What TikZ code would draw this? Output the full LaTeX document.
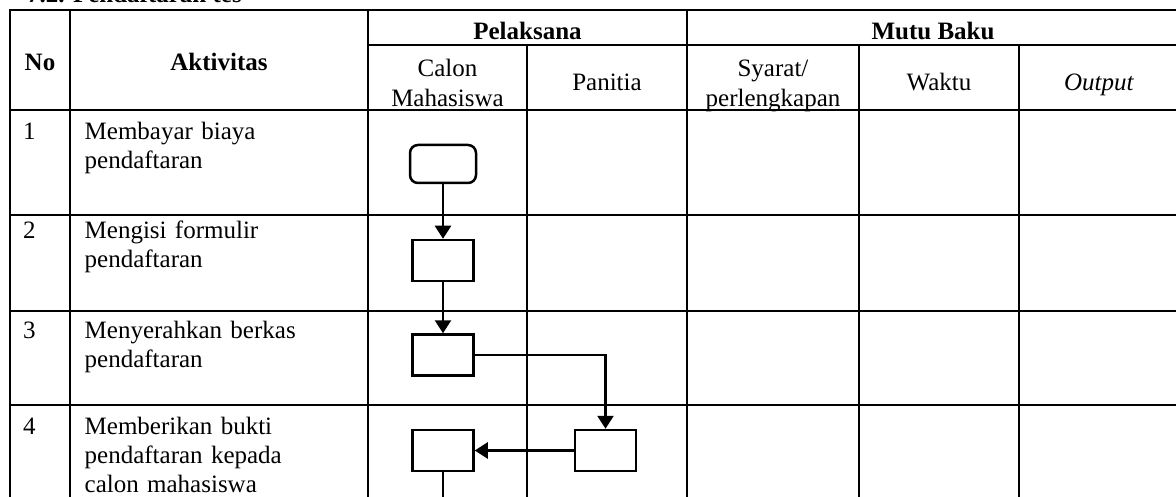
\documentclass[tikz,border=0pt]{standalone}
\usepackage{fontspec}
\setmainfont{Liberation Serif}
\usetikzlibrary{arrows.meta,positioning}
\tikzset{
    %Define standard arrow tip
    >={Triangle[length=13pt,width=16pt]},
    %Define style for table lines
    garis/.style={
           draw=black,
           line width=2.5pt},
    %Define style for boxes
    terminal/.style={
           rectangle,
           rounded corners=8pt,
           draw=black, line width=2.5pt,
           minimum width=66pt,
           minimum height=38pt},
    proses/.style={
           rectangle,
           draw=black, line width=2.5pt,
           minimum width=61pt,
           minimum height=41pt},
    %Define style for texts
    judul/.style={
           font=\fontsize{25}{29}\selectfont\bfseries,
           inner sep=0pt},
    kepala/.style={
           font=\fontsize{25}{29.5}\selectfont,
           inner sep=0pt,
           text width=170pt,
           align=center},
    isi/.style={
           font=\fontsize{25}{29}\selectfont,
           inner sep=0pt,
           text width=270pt,
           align=left},
    % Define arrow style
    pil/.style={
           ->,
           line width=2.5pt}
}
\begin{document}
\begin{tikzpicture}[x=1pt,y=-1pt]
\useasboundingbox (0,0) rectangle (1176,497);
\node[judul, anchor=base west] (judul) at (27,3) {7.2. Pendaftaran tes};
% table lines
\draw[garis] (10,510) -- (10,10) -- (1179,10);
\draw[garis] (368,45) -- (1179,45);
\foreach \y in {110,215,311,405}
    \draw[garis] (10,\y) -- (1179,\y);
\foreach \x in {70,368,687,1179}
    \draw[garis] (\x,10) -- (\x,510);
\foreach \x in {527,859,1019}
    \draw[garis] (\x,45) -- (\x,510);
% header
\node[judul, anchor=base] (no) at (40,71) {No};
\node[judul, anchor=base] (aktivitas) at (219,71) {Aktivitas};
\node[judul, anchor=base] (pelaksana) at (527.5,40) {Pelaksana};
\node[judul, anchor=base] (mutu) at (933,40) {Mutu Baku};
\node[kepala, anchor=base] (calon) at (447.5,77) {Calon\\Mahasiswa};
\node[kepala, anchor=base] (panitia) at (607,91) {Panitia};
\node[kepala, anchor=base] (syarat) at (773,77) {Syarat/\\perlengkapan};
\node[kepala, anchor=base] (waktu) at (939,91) {Waktu};
\node[kepala, anchor=base] (output) at (1099,91) {\textit{Output}};
% rows
\node[isi, text width=40pt, anchor=base west] (n1) at (23,140) {1};
\node[isi, anchor=base west] (a1) at (84.5,140) {Membayar biaya\\pendaftaran};
\node[isi, text width=40pt, anchor=base west] (n2) at (23,239) {2};
\node[isi, anchor=base west] (a2) at (84.5,239) {Mengisi formulir\\pendaftaran};
\node[isi, text width=40pt, anchor=base west] (n3) at (23,338) {3};
\node[isi, anchor=base west] (a3) at (84.5,338) {Menyerahkan berkas\\pendaftaran};
\node[isi, text width=40pt, anchor=base west] (n4) at (23,434) {4};
\node[isi, anchor=base west] (a4) at (84.5,434) {Memberikan bukti\\pendaftaran kepada\\calon mahasiswa};
% flow
\node[terminal] (bayar) at (443,164) {};
\node[proses] (formulir) at (443,260.5) {};
\node[proses] (berkas) at (443,355) {};
\node[proses] (bukti) at (605.5,450.5) {};
\node[proses] (terima) at (443,450.5) {};
\coordinate (lanjut) at (443,512);
\draw[pil] (bayar) -- (formulir);
\draw[pil] (formulir) -- (berkas);
\draw[pil] (berkas.east) -| (bukti.north);
\draw[pil] (bukti) -- (terima);
\draw[pil] (terima) -- (lanjut);
\end{tikzpicture}
\end{document}
